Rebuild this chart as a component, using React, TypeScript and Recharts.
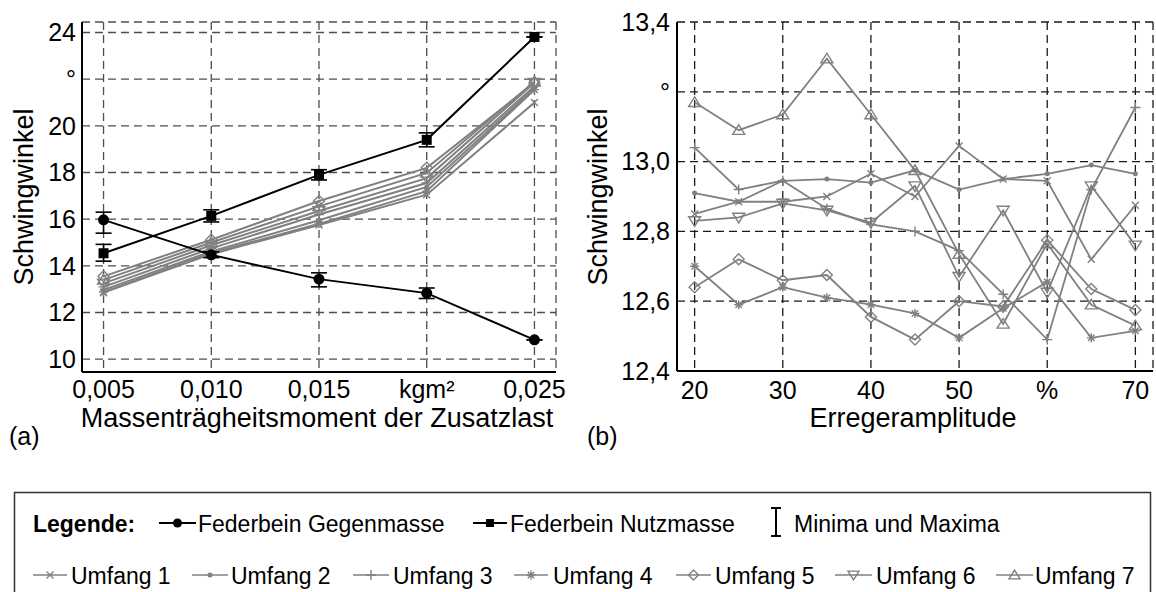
import { LineChart, Line, XAxis, YAxis, CartesianGrid, ErrorBar } from "recharts";

// (a) Schwingwinkel über dem Massenträgheitsmoment der Zusatzlast
const massX = [0.005, 0.01, 0.015, 0.02, 0.025];
const massYTicks = [10, 12, 14, 16, 18, 20, 22, 24];

const gegenmasse = [15.97, 14.47, 13.43, 12.83, 10.83];
const gegenmasseMin = [15.4, 14.35, 13.1, 12.6, 10.83];
const gegenmasseMax = [16.3, 14.6, 13.7, 13.05, 10.83];
const nutzmasse = [14.54, 16.14, 17.9, 19.4, 23.81];
const nutzmasseMin = [14.2, 15.88, 17.68, 19.1, 23.81];
const nutzmasseMax = [14.92, 16.4, 18.12, 19.7, 23.81];

const massUmfang1 = [12.85, 14.5, 15.75, 17.05, 21.0];
const massUmfang2 = [12.97, 14.62, 15.95, 17.38, 21.6];
const massUmfang3 = [13.1, 14.75, 16.2, 17.55, 21.7];
const massUmfang4 = [12.88, 14.55, 15.8, 17.2, 21.55];
const massUmfang5 = [13.55, 15.12, 16.78, 18.2, 21.85];
const massUmfang6 = [13.25, 14.88, 16.35, 17.76, 21.85];
const massUmfang7 = [13.4, 15.0, 16.55, 17.98, 21.9];

// (b) Schwingwinkel über der Erregeramplitude
const ampX = [20, 25, 30, 35, 40, 45, 50, 55, 60, 65, 70];
const ampXTicks = [20, 30, 40, 50, 60, 70];
const ampYTicks = [12.4, 12.6, 12.8, 13.0, 13.2, 13.4];

const ampUmfang1 = [12.85, 12.885, 12.885, 12.9, 12.965, 12.9, 13.045, 12.95, 12.945, 12.72, 12.875];
const ampUmfang2 = [12.91, 12.885, 12.945, 12.95, 12.94, 12.975, 12.92, 12.95, 12.965, 12.99, 12.965];
const ampUmfang3 = [13.04, 12.92, 12.945, 12.865, 12.82, 12.8, 12.745, 12.62, 12.49, 12.92, 13.155];
const ampUmfang4 = [12.7, 12.59, 12.64, 12.61, 12.59, 12.565, 12.495, 12.58, 12.655, 12.495, 12.515];
const ampUmfang5 = [12.64, 12.72, 12.66, 12.675, 12.555, 12.49, 12.6, 12.585, 12.775, 12.635, 12.575];
const ampUmfang6 = [12.83, 12.84, 12.88, 12.86, 12.825, 12.93, 12.67, 12.86, 12.625, 12.93, 12.76];
const ampUmfang7 = [13.17, 13.09, 13.135, 13.295, 13.135, 12.975, 12.735, 12.535, 12.765, 12.59, 12.53];

const FONT = "'Liberation Sans', Arial, Helvetica, sans-serif";
const GRAY = "#808080";

type Shape = "circle" | "square" | "x" | "dot" | "plus" | "star" | "diamond" | "triDown" | "triUp";

const umfangShapes: Shape[] = ["x", "dot", "plus", "star", "diamond", "triDown", "triUp"];

const leftData = massX.map((x, i) => ({
  x,
  geg: gegenmasse[i],
  gegErr: [gegenmasse[i] - gegenmasseMin[i], gegenmasseMax[i] - gegenmasse[i]],
  nutz: nutzmasse[i],
  nutzErr: [nutzmasse[i] - nutzmasseMin[i], nutzmasseMax[i] - nutzmasse[i]],
  u1: massUmfang1[i],
  u2: massUmfang2[i],
  u3: massUmfang3[i],
  u4: massUmfang4[i],
  u5: massUmfang5[i],
  u6: massUmfang6[i],
  u7: massUmfang7[i],
}));

const rightData = ampX.map((x, i) => ({
  x,
  u1: ampUmfang1[i],
  u2: ampUmfang2[i],
  u3: ampUmfang3[i],
  u4: ampUmfang4[i],
  u5: ampUmfang5[i],
  u6: ampUmfang6[i],
  u7: ampUmfang7[i],
}));

const Marker = ({ shape, cx, cy, color, size }: { shape: Shape; cx: number; cy: number; color: string; size: number }) => {
  const s = size / 2;
  const line = { stroke: color, strokeWidth: 1.4, fill: "none" };
  switch (shape) {
    case "circle":
      return <circle cx={cx} cy={cy} r={s} fill={color} />;
    case "square":
      return <rect x={cx - s} y={cy - s} width={size} height={size} fill={color} />;
    case "dot":
      return <circle cx={cx} cy={cy} r={s} fill={color} />;
    case "x":
      return <path d={`M${cx - s},${cy - s}L${cx + s},${cy + s}M${cx - s},${cy + s}L${cx + s},${cy - s}`} {...line} />;
    case "plus":
      return <path d={`M${cx - s},${cy}L${cx + s},${cy}M${cx},${cy - s}L${cx},${cy + s}`} {...line} />;
    case "star": {
      const d = s * 0.72;
      return (
        <path
          d={`M${cx - s},${cy}L${cx + s},${cy}M${cx},${cy - s}L${cx},${cy + s}M${cx - d},${cy - d}L${cx + d},${cy + d}M${cx - d},${cy + d}L${cx + d},${cy - d}`}
          {...line}
        />
      );
    }
    case "diamond":
      return <polygon points={`${cx},${cy - s} ${cx + s},${cy} ${cx},${cy + s} ${cx - s},${cy}`} {...line} />;
    case "triDown":
      return <polygon points={`${cx - s},${cy - s * 0.7} ${cx + s},${cy - s * 0.7} ${cx},${cy + s * 0.9}`} {...line} />;
    case "triUp":
      return <polygon points={`${cx - s},${cy + s * 0.7} ${cx + s},${cy + s * 0.7} ${cx},${cy - s * 0.9}`} {...line} />;
  }
  return null;
};

const dotFor = (shape: Shape, color: string, size: number) => (props: any) => {
  const { cx, cy, index } = props;
  if (cx == null || cy == null) return <g key={index} />;
  return (
    <g key={index}>
      <Marker shape={shape} cx={cx} cy={cy} color={color} size={size} />
    </g>
  );
};

const markerSize: Record<Shape, number> = {
  circle: 11,
  square: 10,
  x: 7,
  dot: 5,
  plus: 10,
  star: 9,
  diamond: 11,
  triDown: 12,
  triUp: 12,
};

// symbols used in the legend box
const legendMarkerSize: Record<Shape, number> = {
  circle: 9,
  square: 8,
  x: 7,
  dot: 5,
  plus: 10,
  star: 9,
  diamond: 10,
  triDown: 11,
  triUp: 11,
};

const tickStyle = { fill: "#000", fontSize: 25, fontFamily: FONT };

const fmtMass = (v: number) => (Math.abs(v - 0.02) < 1e-9 ? "kgm²" : v.toFixed(3).replace(".", ","));
const fmtMassY = (v: number) => (v === 22 ? "°" : String(v));
const fmtAmp = (v: number) => (v === 60 ? "%" : String(v));
const fmtAmpY = (v: number) => (Math.abs(v - 13.2) < 1e-6 ? "°" : v.toFixed(1).replace(".", ","));

const MassChart = () => (
  <LineChart width={580} height={450} data={leftData} margin={{ top: 22, right: 24, left: 22, bottom: 38 }}>
    <CartesianGrid stroke="#4d4d4d" strokeWidth={1.3} strokeDasharray="8 5" />
    <XAxis
      dataKey="x"
      type="number"
      domain={[0.004, 0.026]}
      ticks={massX}
      tickFormatter={fmtMass}
      tick={tickStyle}
      tickLine={false}
      tickSize={0}
      tickMargin={8}
      height={40}
      axisLine={{ stroke: "#000", strokeWidth: 2 }}
    />
    <XAxis xAxisId="top" orientation="top" dataKey="x" type="number" domain={[0.004, 0.026]} height={0} tick={false} tickLine={false} axisLine={{ stroke: "#000", strokeWidth: 1.5 }} />
    <YAxis
      type="number"
      domain={[9.45, 24.45]}
      ticks={massYTicks}
      tickFormatter={fmtMassY}
      tick={tickStyle}
      tickLine={false}
      tickSize={0}
      tickMargin={6}
      width={60}
      axisLine={{ stroke: "#000", strokeWidth: 2 }}
    />
    <YAxis yAxisId="right" orientation="right" domain={[9.45, 24.45]} width={0} tick={false} tickLine={false} axisLine={{ stroke: "#000", strokeWidth: 1.5 }} />
    {umfangShapes.map((shape, i) => (
      <Line
        key={`u${i + 1}`}
        dataKey={`u${i + 1}`}
        type="linear"
        stroke={GRAY}
        strokeWidth={2}
        dot={dotFor(shape, GRAY, markerSize[shape])}
        activeDot={false}
        isAnimationActive={false}
      />
    ))}
    <Line dataKey="geg" type="linear" stroke="#000" strokeWidth={2} dot={dotFor("circle", "#000", markerSize.circle)} activeDot={false} isAnimationActive={false}>
      <ErrorBar dataKey="gegErr" width={8} stroke="#000" strokeWidth={1.6} direction="y" isAnimationActive={false} />
    </Line>
    <Line dataKey="nutz" type="linear" stroke="#000" strokeWidth={2} dot={dotFor("square", "#000", markerSize.square)} activeDot={false} isAnimationActive={false}>
      <ErrorBar dataKey="nutzErr" width={8} stroke="#000" strokeWidth={1.6} direction="y" isAnimationActive={false} />
    </Line>
  </LineChart>
);

const AmpChart = () => (
  <LineChart width={576} height={450} data={rightData} margin={{ top: 22, right: 3, left: 27, bottom: 39 }}>
    <CartesianGrid stroke="#1a1a1a" strokeWidth={1.3} strokeDasharray="8 5" />
    <XAxis
      dataKey="x"
      type="number"
      domain={[18, 72]}
      ticks={ampXTicks}
      tickFormatter={fmtAmp}
      tick={tickStyle}
      tickLine={false}
      tickSize={0}
      tickMargin={10}
      height={40}
      axisLine={{ stroke: "#000", strokeWidth: 2 }}
    />
    <XAxis xAxisId="top" orientation="top" dataKey="x" type="number" domain={[18, 72]} height={0} tick={false} tickLine={false} axisLine={{ stroke: "#000", strokeWidth: 2 }} />
    <YAxis
      type="number"
      domain={[12.4, 13.4]}
      ticks={ampYTicks}
      tickFormatter={fmtAmpY}
      tick={tickStyle}
      tickLine={false}
      tickSize={0}
      tickMargin={7}
      width={70}
      axisLine={{ stroke: "#000", strokeWidth: 2 }}
    />
    <YAxis yAxisId="right" orientation="right" domain={[12.4, 13.4]} width={0} tick={false} tickLine={false} axisLine={{ stroke: "#000", strokeWidth: 2 }} />
    {umfangShapes.map((shape, i) => (
      <Line
        key={`u${i + 1}`}
        dataKey={`u${i + 1}`}
        type="linear"
        stroke={GRAY}
        strokeWidth={1.8}
        dot={dotFor(shape, GRAY, markerSize[shape])}
        activeDot={false}
        isAnimationActive={false}
      />
    ))}
  </LineChart>
);

const legendRow1 = [
  { label: "Federbein Gegenmasse", shape: "circle" as Shape, x1: 159, x2: 196, tx: 198 },
  { label: "Federbein Nutzmasse", shape: "square" as Shape, x1: 473, x2: 507, tx: 510 },
];

const legendRow2 = [
  { x1: 33, x2: 67, tx: 71 },
  { x1: 192, x2: 228, tx: 231 },
  { x1: 353, x2: 389, tx: 393 },
  { x1: 514, x2: 548, tx: 553 },
  { x1: 676, x2: 711, tx: 715 },
  { x1: 835, x2: 872, tx: 876 },
  { x1: 996, x2: 1033, tx: 1035 },
];

// legend lettering is drawn slightly taller than wide
const LegendText = ({ x, y, children, bold }: { x: number; y: number; children: string; bold?: boolean }) => (
  <text transform={`translate(${x},${y}) scale(1,1.08)`} fontWeight={bold ? "bold" : "normal"}>
    {children}
  </text>
);

const Legend = () => (
  <g fontFamily={FONT} fontSize={23} fill="#000">
    <rect x={14.5} y={492.5} width={1136} height={120} fill="none" stroke="#333" strokeWidth={1.5} />
    <LegendText x={33} y={532} bold>Legende:</LegendText>
    {legendRow1.map((item) => (
      <g key={item.label}>
        <line x1={item.x1} x2={item.x2} y1={523} y2={523} stroke="#000" strokeWidth={2} />
        <Marker shape={item.shape} cx={(item.x1 + item.x2) / 2} cy={523} color="#000" size={legendMarkerSize[item.shape]} />
        <LegendText x={item.tx} y={532}>{item.label}</LegendText>
      </g>
    ))}
    <path d="M771,508L781,508M776,508L776,536M771,536L781,536" stroke="#000" strokeWidth={2} />
    <LegendText x={794} y={532}>Minima und Maxima</LegendText>
    {legendRow2.map((item, i) => {
      const shape = umfangShapes[i];
      return (
        <g key={`leg${i}`}>
          <line x1={item.x1} x2={item.x2} y1={575} y2={575} stroke={GRAY} strokeWidth={1.6} />
          <Marker shape={shape} cx={(item.x1 + item.x2) / 2} cy={575} color={GRAY} size={legendMarkerSize[shape]} />
          <LegendText x={item.tx} y={584}>{`Umfang ${i + 1}`}</LegendText>
        </g>
      );
    })}
  </g>
);

export default function App() {
  return (
    <div style={{ position: "absolute", left: 0, top: 0, width: 1156, height: 592, overflow: "hidden", background: "#fff", fontFamily: FONT }}>
      <div style={{ position: "absolute", left: 0, top: 0 }}>
        <MassChart />
      </div>
      <div style={{ position: "absolute", left: 580, top: 0 }}>
        <AmpChart />
      </div>
      <svg width={1156} height={592} style={{ position: "absolute", left: 0, top: 0, pointerEvents: "none" }}>
        <g fontFamily={FONT} fontSize={27} fill="#000">
          <text transform="translate(33,197) rotate(-90)" textAnchor="middle">Schwingwinkel</text>
          <text transform="translate(607,197) rotate(-90)" textAnchor="middle">Schwingwinkel</text>
          <text x={317} y={427} textAnchor="middle">Massenträgheitsmoment der Zusatzlast</text>
          <text x={913} y={427} textAnchor="middle">Erregeramplitude</text>
        </g>
        <g fontFamily={FONT} fontSize={25} fill="#000">
          <text x={9} y={445}>(a)</text>
          <text x={587} y={445}>(b)</text>
        </g>
        <Legend />
      </svg>
    </div>
  );
}
